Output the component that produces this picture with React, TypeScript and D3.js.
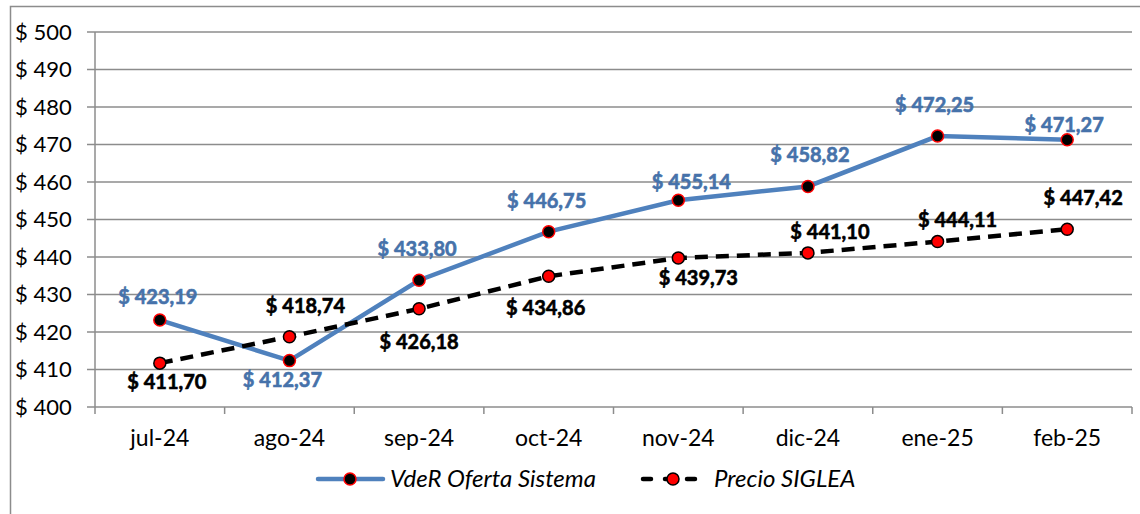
import React, { useEffect, useRef } from "react";
import * as d3 from "d3";

const months = ["jul-24", "ago-24", "sep-24", "oct-24", "nov-24", "dic-24", "ene-25", "feb-25"];
const vderValues = [423.19, 412.37, 433.8, 446.75, 455.14, 458.82, 472.25, 471.27];
const sigleaValues = [411.7, 418.74, 426.18, 434.86, 439.73, 441.1, 444.11, 447.42];
const yTicks = [400, 410, 420, 430, 440, 450, 460, 470, 480, 490, 500];

// hand-placed data label offsets (px from the point)
const vderLabelDx = [-2, -7, -2, -2, 13, 2, -3, -3];
const vderLabelDy = [-16, 26, -24, -24, -11, -24, -24, -8];
const sigleaLabelDx = [7, 16, 0, -3, 20, 22, 20, 16];
const sigleaLabelDy = [26, -24, 40, 39, 27, -14, -15, -24];

const fmt = (v: number) => "$ " + v.toFixed(2).replace(".", ",");

const App = () => {
  const ref = useRef<SVGSVGElement>(null);

  useEffect(() => {
    const svg = d3.select(ref.current);
    svg.selectAll("*").remove();

    const left = 95;
    const right = 1132;
    const top = 32;
    const bottom = 407;
    const font = "Lato, 'Open Sans', sans-serif";

    const x = d3.scaleBand().domain(months).range([left, right]);
    const y = d3.scaleLinear().domain([400, 500]).range([bottom, top]);
    const cx = (m: string) => (x(m) as number) + x.bandwidth() / 2;

    // outer chart border
    svg
      .append("rect")
      .attr("x", 10.5)
      .attr("y", 6.5)
      .attr("width", 1200)
      .attr("height", 600)
      .attr("fill", "white")
      .attr("stroke", "#8c8c8c")
      .attr("stroke-width", 1.5);

    // gridlines + y ticks
    const yAxis = svg.append("g");
    yTicks.forEach((t) => {
      yAxis
        .append("line")
        .attr("x1", left - 8)
        .attr("x2", right)
        .attr("y1", y(t))
        .attr("y2", y(t))
        .attr("stroke", "#8c8c8c")
        .attr("stroke-width", 1.5);
      yAxis
        .append("text")
        .attr("x", 15)
        .attr("y", y(t))
        .attr("dy", "0.35em")
        .attr("font-family", font)
        .attr("font-size", 22)
        .attr("fill", "#000")
        .text("$ " + t);
    });

    // y axis line
    svg
      .append("line")
      .attr("x1", left)
      .attr("x2", left)
      .attr("y1", top)
      .attr("y2", bottom)
      .attr("stroke", "#8c8c8c")
      .attr("stroke-width", 1.5);

    // x axis ticks and labels
    const xg = svg.append("g");
    [...months.map((m) => x(m) as number), right].forEach((px) => {
      xg.append("line")
        .attr("x1", px)
        .attr("x2", px)
        .attr("y1", bottom)
        .attr("y2", bottom + 7)
        .attr("stroke", "#8c8c8c")
        .attr("stroke-width", 1.5);
    });
    months.forEach((m) => {
      xg.append("text")
        .attr("x", cx(m))
        .attr("y", bottom + 39)
        .attr("text-anchor", "middle")
        .attr("font-family", font)
        .attr("font-size", 23)
        .attr("fill", "#000")
        .text(m);
    });

    const line = d3
      .line<number>()
      .x((_, i) => cx(months[i]))
      .y((d) => y(d));

    // VdeR series
    svg
      .append("path")
      .attr("d", line(vderValues))
      .attr("fill", "none")
      .attr("stroke", "#4F81BD")
      .attr("stroke-width", 4.5);

    // SIGLEA series
    svg
      .append("path")
      .attr("d", line(sigleaValues))
      .attr("fill", "none")
      .attr("stroke", "#000")
      .attr("stroke-width", 4.5)
      .attr("stroke-dasharray", "13,8");

    const markers = (vals: number[], fill: string, stroke: string) => {
      svg
        .append("g")
        .selectAll("circle")
        .data(vals)
        .join("circle")
        .attr("cx", (_, i) => cx(months[i]))
        .attr("cy", (d) => y(d))
        .attr("r", 6)
        .attr("fill", fill)
        .attr("stroke", stroke)
        .attr("stroke-width", 1.5);
    };
    markers(vderValues, "#000", "#ff0000");
    markers(sigleaValues, "#ff0000", "#000");

    const labels = (vals: number[], dx: number[], dy: number[], color: string) => {
      svg
        .append("g")
        .selectAll("text")
        .data(vals)
        .join("text")
        .attr("x", (_, i) => cx(months[i]) + dx[i])
        .attr("y", (d, i) => y(d) + dy[i])
        .attr("text-anchor", "middle")
        .attr("font-family", font)
        .attr("font-size", 20)
        .attr("font-weight", "bold")
        .attr("fill", color)
        .attr("stroke", color)
        .attr("stroke-width", 0.6)
        .text((d) => fmt(d));
    };
    labels(vderValues, vderLabelDx, vderLabelDy, "#4672AA");
    labels(sigleaValues, sigleaLabelDx, sigleaLabelDy, "#000");

    // legend
    const lg = svg.append("g").attr("transform", "translate(0,479)");
    lg.append("line")
      .attr("x1", 318)
      .attr("x2", 383)
      .attr("stroke", "#4F81BD")
      .attr("stroke-width", 4.5)
      .attr("stroke-linecap", "round");
    lg.append("circle").attr("cx", 350).attr("r", 6).attr("fill", "#000").attr("stroke", "#ff0000").attr("stroke-width", 1.5);
    lg.append("text")
      .attr("x", 390)
      .attr("dy", "0.35em")
      .attr("font-family", font)
      .attr("font-size", 24)
      .attr("font-style", "italic")
      .text("VdeR Oferta Sistema");
    lg.append("line")
      .attr("x1", 643)
      .attr("x2", 701)
      .attr("stroke", "#000")
      .attr("stroke-width", 4.5)
      .attr("stroke-linecap", "round")
      .attr("stroke-dasharray", "8,14");
    lg.append("circle").attr("cx", 673).attr("r", 6).attr("fill", "#ff0000").attr("stroke", "#000").attr("stroke-width", 1.5);
    lg.append("text")
      .attr("x", 714)
      .attr("dy", "0.35em")
      .attr("font-family", font)
      .attr("font-size", 24)
      .attr("font-style", "italic")
      .text("Precio SIGLEA");
  }, []);

  return (
    <svg
      ref={ref}
      width={1140}
      height={514}
      style={{ position: "absolute", left: 0, top: 0, display: "block" }}
    />
  );
};

export default App;
